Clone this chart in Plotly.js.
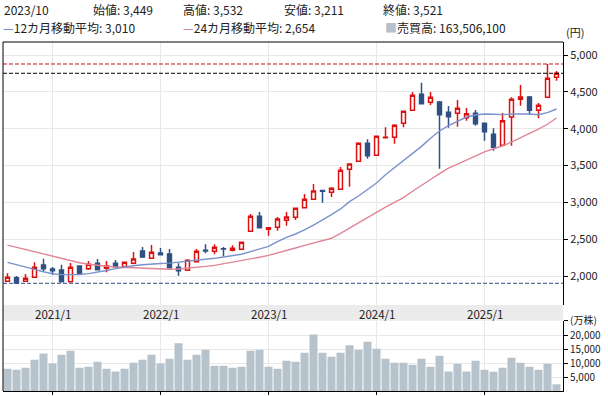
<!DOCTYPE html>
<html><head><meta charset="utf-8">
<script src="https://cdn.plot.ly/plotly-3.0.1.min.js"></script>
<style>html,body{margin:0;padding:0;background:#fff}#c{width:608px;height:396px}</style>
</head><body><div id="c"></div>
<script>
// Monthly data, 2020/8 .. 2025/9
const months = [];
(function(){let y=2020,m=8;for(let i=0;i<62;i++){months.push(y+'/'+m);m++;if(m>12){m=1;y++;}}})();

const open  = [1928,1976,1928,1982,2149,2095,2081,1923,2136,2099,2172,2104,2172,2127,2172,2339,2240,2312,2299,2118,2077,2194,2350,2335,2370,2349,2362,2607,2810,2634,2661,2756,2797,2927,3041,3160,3136,3177,3449,3557,3801,3638,3875,3883,4073,4249,4467,4358,4362,4222,4209,4149,4209,4073,3924,3774,4158,4399,4430,4249,4426,4697];
const high  = [2037,2000,2027,2186,2235,2122,2154,2176,2138,2204,2231,2204,2217,2190,2326,2394,2421,2380,2367,2172,2226,2367,2430,2430,2394,2417,2462,2842,2869,2660,2801,2869,2922,3113,3249,3163,3204,3480,3532,3815,3856,3898,4019,4059,4240,4498,4623,4498,4376,4308,4389,4281,4253,4075,4005,4213,4426,4593,4444,4349,4878,4783];
const low   = [1925,1901,1925,1980,2068,2014,1920,1920,2025,2081,2084,2050,2113,2122,2159,2244,2238,2285,2110,2004,2075,2190,2308,2295,2267,2335,2358,2600,2654,2547,2615,2683,2760,2925,3038,2995,3072,3175,3211,3555,3592,3636,3870,3796,4019,4247,4335,4321,3457,4013,4027,4108,4040,3837,3701,3770,3769,4312,4190,4140,4424,4651];
const close = [1982,1905,1969,2118,2099,2072,1923,2118,2027,2159,2086,2136,2127,2186,2231,2258,2322,2289,2113,2072,2213,2335,2340,2390,2365,2376,2457,2810,2656,2656,2774,2801,2919,3041,3154,3150,3190,3435,3521,3801,3633,3896,3885,4046,4236,4453,4339,4426,4190,4163,4277,4204,4067,3959,3747,4108,4399,4430,4249,4317,4686,4752];
// volume in 万株
const volume = [8080,7730,8440,11280,13500,9970,13050,14470,8440,8800,10570,8080,7130,8080,10210,11280,13050,9970,11630,17060,11280,13050,14820,9150,9150,8440,8800,14470,14820,8800,8080,10920,10570,13760,20140,13760,12340,13760,16350.61,14820,17660,15180,11630,10210,10210,9500,11630,8800,12690,7130,9860,7130,10920,7730,7020,8440,11990,10210,8800,7730,9860,2660];
const ma12 = [2185,2150,2120,2090,2058,2030,2018,2014,2020,2032,2050,2075,2100,2122,2140,2153,2164,2169,2175,2188,2198,2209,2220,2240,2258,2275,2295,2330,2367,2403,2466,2525,2570,2625,2692,2760,2832,2910,3010,3086,3172,3262,3375,3470,3561,3656,3760,3869,3968,4040,4104,4158,4186,4199,4195,4190,4199,4204,4199,4190,4217,4267];
const ma24 = [2420,2390,2360,2332,2297,2263,2232,2205,2180,2160,2143,2132,2123,2117,2113,2105,2098,2093,2092,2096,2104,2118,2130,2145,2166,2185,2205,2230,2255,2280,2310,2345,2380,2415,2445,2478,2512,2580,2654,2722,2795,2865,2935,2995,3065,3150,3235,3310,3390,3465,3520,3575,3630,3685,3727,3765,3818,3872,3935,3995,4060,4145];
const priceTicks = [2000,2500,3000,3500,4000,4500,5000];
const volTicks = [5000,10000,15000,20000,25000];
const volTickText = ['5,000','10,000','15,000','20,000','(万株)'];
const selIdx = 38; // 2023/10 shown in header

const idx = months.map((_,i)=>i);
const janIdx = idx.filter(i=>months[i].endsWith('/1'));
const fmt = v => Math.round(v).toLocaleString('en-US');

const UP='#dd1010', DOWN='#2e5082', VOLC='#b6c3cc', GRID='#e8e8e8';
const traces = [
  {type:'scatter',mode:'lines',x:idx,y:ma24,xaxis:'x',yaxis:'y',line:{color:'#e08595',width:1.4},hoverinfo:'skip'},
  {type:'scatter',mode:'lines',x:idx,y:ma12,xaxis:'x',yaxis:'y',line:{color:'#7a91cc',width:1.4},hoverinfo:'skip'},
  {type:'candlestick',x:idx,open:open,high:high,low:low,close:close,xaxis:'x',yaxis:'y',
   increasing:{line:{color:UP,width:1.5},fillcolor:'#ffffff'},
   decreasing:{line:{color:DOWN,width:1.5},fillcolor:DOWN},whiskerwidth:0},
  {type:'bar',x:idx,y:volume,xaxis:'x2',yaxis:'y2',marker:{color:VOLC,line:{width:0}}}
];

const W=608,H=396,L=3,R=45,T=42,B=5;
const pw=W-L-R, ph=H-T-B;
const px=x=>(x-L)/pw, py=y=>(H-B-y)/ph;
const priceBottom=305, volTop=320.8;
const xr=[-0.5,-0.5+pw/9];

const hdrFont={family:'"Noto Sans CJK JP", sans-serif',size:12,color:'#222'};
function hdr(x,y,t){return {xref:'paper',yref:'paper',x:px(x),y:py(y),xanchor:'left',yanchor:'middle',text:t,showarrow:false,font:hdrFont,borderpad:0};}
const ann = [
  hdr(3,9.5,months[selIdx]),
  hdr(92,9.5,'始値: '+fmt(open[selIdx])),
  hdr(182,9.5,'高値: '+fmt(high[selIdx])),
  hdr(283,9.5,'安値: '+fmt(low[selIdx])),
  hdr(382,9.5,'終値: '+fmt(close[selIdx])),
  hdr(2,27,'<span style="color:#5a73b5">—</span>12カ月移動平均: '+fmt(ma12[selIdx])),
  hdr(182,27,'<span style="color:#c9707f">—</span>24カ月移動平均: '+fmt(ma24[selIdx])),
  hdr(384,27,'<span style="color:#b6c2cb">■</span>売買高: '+fmt(volume[selIdx]*10000)),
  {xref:'paper',yref:'paper',x:px(565),y:py(32.5),xanchor:'left',yanchor:'middle',text:'(円)',showarrow:false,font:{size:11,color:'#222'},borderpad:0}
];
janIdx.forEach(i=>ann.push({xref:'x',yref:'paper',x:i,y:py(313.8),xanchor:'center',yanchor:'middle',
  text:months[i],showarrow:false,font:{size:11.5,color:'#222'},borderpad:0}));

const maxH=Math.max(...high), minL=Math.min(...low), last=close[close.length-1];
const shapes = [
  {type:'rect',xref:'paper',yref:'paper',x0:0,x1:1,y0:py(volTop),y1:py(priceBottom),fillcolor:'#ebebeb',line:{width:0},layer:'below'},
  {type:'line',xref:'paper',yref:'y',x0:0,x1:1,y0:maxH,y1:maxH,line:{color:'#c8141e',width:1,dash:'4px,2px'}},
  {type:'line',xref:'paper',yref:'y',x0:0,x1:1,y0:last,y1:last,line:{color:'#000',width:1,dash:'4px,2px'}},
  {type:'line',xref:'paper',yref:'y',x0:0,x1:1,y0:minL,y1:minL,line:{color:DOWN,width:1,dash:'4px,2px'}},
  {type:'line',xref:'paper',yref:'paper',x0:0,x1:0,y0:0,y1:1,line:{color:'#000',width:1}},
  {type:'line',xref:'paper',yref:'paper',x0:0,x1:1,y0:1,y1:1,line:{color:'#000',width:1}}
];

const p0=2000-(priceBottom-276)*3000/221, p1=5000+(55-T)*3000/221;
const layout = {
  width:W,height:H,margin:{l:L,r:R,t:T,b:B,pad:0},
  paper_bgcolor:'#fff',plot_bgcolor:'#fff',showlegend:false,
  font:{family:'"Noto Sans CJK JP", "Noto Sans", sans-serif',size:11,color:'#222'},
  boxgap:0.38,bargap:0.11,
  xaxis:{domain:[0,1],anchor:'y',range:xr,tickvals:janIdx,showticklabels:false,ticks:'',showgrid:true,gridcolor:GRID,zeroline:false,showline:false,rangeslider:{visible:false},fixedrange:true},
  xaxis2:{domain:[0,1],anchor:'y2',range:xr,tickvals:janIdx,showticklabels:false,ticks:'outside',ticklen:3,tickcolor:'#000',showline:true,linecolor:'#000',linewidth:1,showgrid:true,gridcolor:GRID,zeroline:false,fixedrange:true},
  yaxis:{domain:[py(priceBottom),1],anchor:'x',side:'right',range:[p0,p1],tickvals:priceTicks,ticktext:priceTicks.map(fmt),ticks:'outside',ticklen:4,tickcolor:'#000',showline:true,linecolor:'#000',linewidth:1,showgrid:true,gridcolor:GRID,zeroline:false,tickfont:{size:11,color:'#222'},fixedrange:true},
  yaxis2:{domain:[0,py(volTop)],anchor:'x2',side:'right',range:[282,25000],tickvals:volTicks,ticktext:volTickText,ticks:'outside',ticklen:4,tickcolor:'#000',showline:true,linecolor:'#000',linewidth:1,showgrid:true,gridcolor:GRID,zeroline:false,tickfont:{size:10,color:'#222'},fixedrange:true},
  annotations:ann,shapes:shapes
};
Plotly.newPlot('c',traces,layout,{staticPlot:true,displayModeBar:false});
</script></body></html>
